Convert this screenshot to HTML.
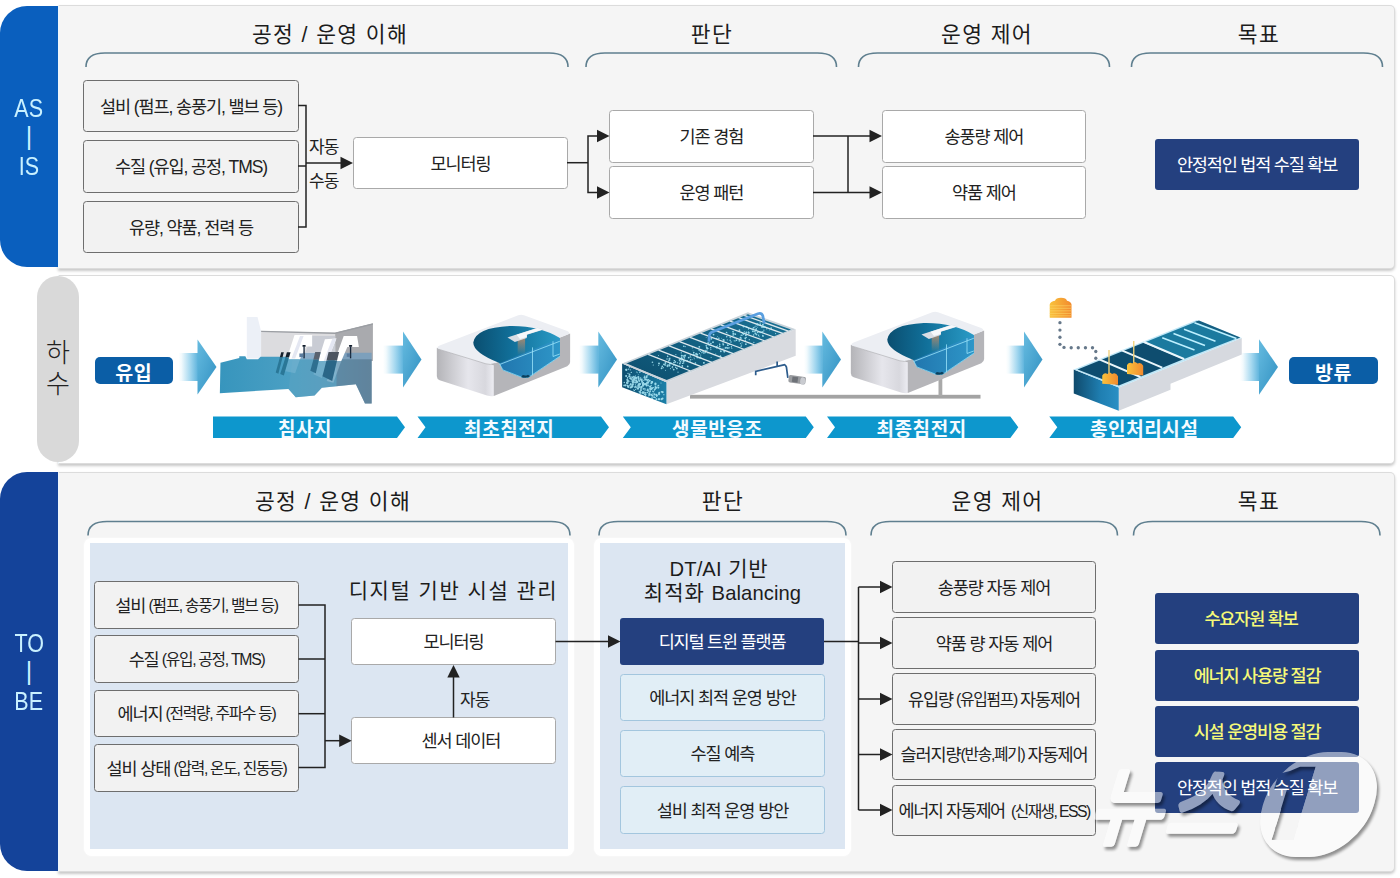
<!DOCTYPE html>
<html lang="ko"><head><meta charset="utf-8"><title>하수처리 AS-IS / TO-BE</title>
<style>
*{box-sizing:border-box;margin:0;padding:0}
html,body{width:1400px;height:878px;background:#fff;overflow:hidden}
body{font-family:"Liberation Sans","Noto Sans CJK KR",sans-serif;color:#222}
#root{position:relative;width:1400px;height:878px;overflow:hidden;background:#fff}
.abs{position:absolute}
.panel{position:absolute;background:#f5f5f5;border:1px solid #dcdcdc;border-left-color:#eef7fd;border-radius:0 5px 5px 0;box-shadow:0 2px 3px rgba(0,0,0,.22)}
.bar{position:absolute;left:0;width:58px;border-radius:27px 0 0 27px;color:#c9f1ff;display:flex;flex-direction:column;align-items:center;justify-content:center;font-size:25px;line-height:30px;font-weight:400}
.sq{display:inline-block;transform:scaleX(.86)}
.lt{font-size:20.2px;letter-spacing:.1px}
.hd{position:absolute;height:30px;line-height:30px;text-align:center;font-size:21.5px;letter-spacing:1.35px;color:#1c1c1c;font-weight:400;white-space:nowrap}
.bx{position:absolute;display:flex;align-items:center;justify-content:center;border-radius:3.5px;font-size:17.5px;letter-spacing:-1.1px;white-space:nowrap;color:#222;font-weight:400;padding-bottom:2px}
.g{background:#f2f2f2;border:1px solid #6e6e6e}
.w{background:#fff;border:1px solid #a9a9a9}
.lb{background:#e1eef6;border:1px solid #a3c6de}
.nv{background:#24407f;color:#fff;border-radius:3px;letter-spacing:-1.18px}
.nv.y{color:#f6f978;font-weight:500}
.sm{font-size:15.8px;letter-spacing:-1.3px}
.lbl{position:absolute;font-size:17px;letter-spacing:-.8px;white-space:nowrap;color:#222;line-height:20px}
svg{position:absolute;left:0;top:0}
</style></head>
<body><div id="root">
<div class="panel" style="left:58px;top:5px;width:1337px;height:264px"></div>
<div class="panel" style="left:58px;top:275px;width:1337px;height:189px;background:#fff"></div>
<div class="panel" style="left:58px;top:472px;width:1337px;height:400px"></div>
<div class="bar" style="top:6px;height:261px;background:#0a5fbe"><span class="sq">AS</span><span style="line-height:28px;font-size:25px;position:relative;top:-1px">|</span><span class="sq">IS</span></div>
<div class="bar" style="top:472px;height:399px;background:#14439a"><span class="sq">TO</span><span style="line-height:28px;font-size:25px;position:relative;top:-1px">|</span><span class="sq">BE</span></div>
<div class="abs" style="left:37px;top:276px;width:42px;height:186px;border-radius:21px;background:#d9d9d9;display:flex;flex-direction:column;align-items:center;justify-content:center;font-size:26px;line-height:31.5px;color:#222;font-weight:300"><span>하</span><span>수</span></div>
<div class="hd" style="left:180px;top:20px;width:300px;">공정 / 운영 이해</div>
<div class="hd" style="left:562px;top:20px;width:300px;">판단</div>
<div class="hd" style="left:837px;top:20px;width:300px;">운영 제어</div>
<div class="hd" style="left:1109px;top:20px;width:300px;">목표</div>
<div class="hd" style="left:183px;top:486.5px;width:300px;">공정 / 운영 이해</div>
<div class="hd" style="left:573px;top:486.5px;width:300px;">판단</div>
<div class="hd" style="left:847.5px;top:486.5px;width:300px;">운영 제어</div>
<div class="hd" style="left:1109px;top:486.5px;width:300px;">목표</div>
<div class="bx g" style="left:83px;top:80px;width:216px;height:52px">설비 (펌프, 송풍기, 밸브 등)</div>
<div class="bx g" style="left:83px;top:140px;width:216px;height:53px">수질 (유입, 공정, TMS)</div>
<div class="bx g" style="left:83px;top:201px;width:216px;height:52px">유량, 약품, 전력 등</div>
<div class="bx w" style="left:353px;top:137px;width:215px;height:52px">모니터링</div>
<div class="bx w" style="left:609px;top:110px;width:205px;height:53px">기존 경험</div>
<div class="bx w" style="left:609px;top:166px;width:205px;height:53px">운영 패턴</div>
<div class="bx w" style="left:882px;top:110px;width:204px;height:53px">송풍량 제어</div>
<div class="bx w" style="left:882px;top:166px;width:204px;height:53px">약품 제어</div>
<div class="bx nv" style="left:1155px;top:139px;width:204px;height:51px">안정적인 법적 수질 확보</div>
<div class="lbl" style="left:309px;top:137.5px">자동</div>
<div class="lbl" style="left:309px;top:172px">수동</div>
<div class="abs" style="left:84px;top:538px;width:490px;height:318px;background:#fff;border-radius:8px;box-shadow:0 0 2px 0 #fff"></div>
<div class="abs" style="left:89.5px;top:543px;width:478.5px;height:305.5px;background:#dce6f2"></div>
<div class="abs" style="left:594px;top:538px;width:257px;height:318px;background:#fff;border-radius:8px;box-shadow:0 0 2px 0 #fff"></div>
<div class="abs" style="left:600px;top:543px;width:245px;height:305.5px;background:#dce6f2"></div>
<div class="bx g" style="left:94px;top:581px;width:205px;height:48px">설비 <span class="sm">&nbsp;(펌프, 송풍기, 밸브 등)</span></div>
<div class="bx g" style="left:94px;top:635px;width:205px;height:48px">수질 <span class="sm">&nbsp;(유입, 공정, TMS)</span></div>
<div class="bx g" style="left:94px;top:690px;width:205px;height:47px">에너지 <span class="sm">&nbsp;(전력량, 주파수 등)</span></div>
<div class="bx g" style="left:94px;top:744px;width:205px;height:48px">설비 상태 <span class="sm">&nbsp;(압력, 온도, 진동등)</span></div>
<div class="hd" style="left:303.5px;top:576px;width:300px;font-size:21px;letter-spacing:1.5px">디지털 기반 시설 관리</div>
<div class="bx w" style="left:351px;top:618px;width:205px;height:47px">모니터링</div>
<div class="bx w" style="left:351px;top:717px;width:205px;height:47px"><span style="padding-left:15px">센서 데이터</span></div>
<div class="lbl" style="left:460px;top:691px">자동</div>
<div class="hd" style="left:569px;top:553.5px;width:300px;font-size:21px;letter-spacing:.8px"><span class="lt">DT/AI</span> 기반</div>
<div class="hd" style="left:572.5px;top:577.5px;width:300px;font-size:21px;letter-spacing:1px">최적화 <span class="lt">Balancing</span></div>
<div class="bx nv" style="left:620px;top:618px;width:204px;height:47px">디지털 트윈 플랫폼</div>
<div class="bx lb" style="left:620px;top:674px;width:205px;height:47px">에너지 최적 운영 방안</div>
<div class="bx lb" style="left:620px;top:730px;width:205px;height:47px">수질 예측</div>
<div class="bx lb" style="left:620px;top:786px;width:205px;height:48px">설비 최적 운영 방안</div>
<div class="bx g" style="left:892px;top:561px;width:204px;height:52px">송풍량 자동 제어</div>
<div class="bx g" style="left:892px;top:617px;width:204px;height:52px">약품 량 자동 제어</div>
<div class="bx g" style="left:892px;top:673px;width:204px;height:52px">유입량 <span class="sm">&nbsp;(유입펌프)&nbsp;</span> 자동제어</div>
<div class="bx g" style="left:892px;top:729px;width:204px;height:51px">슬러지량<span class="sm">(반송,폐기)&nbsp;</span> 자동제어</div>
<div class="bx g" style="left:892px;top:785px;width:204px;height:51px"><span style="letter-spacing:-1.4px">에너지 자동제어 <span class="sm" style="letter-spacing:-1.6px">&nbsp;(신재생, ESS)</span></span></div>
<div class="bx nv y" style="left:1155px;top:593px;width:204px;height:51px"><span style="padding-right:12px">수요자원 확보</span></div>
<div class="bx nv y" style="left:1155px;top:650px;width:204px;height:51px">에너지 사용량 절감</div>
<div class="bx nv y" style="left:1155px;top:706px;width:204px;height:51px">시설 운영비용 절감</div>
<div class="bx nv" style="left:1155px;top:762px;width:204px;height:51px">안정적인 법적 수질 확보</div>
<div class="abs" style="left:95px;top:357px;width:77.5px;height:27px;border-radius:5px;background:#0b5ea6;color:#fff;font-weight:700;font-size:19.5px;line-height:33px;text-align:center;letter-spacing:.6px;z-index:3">유입</div>
<div class="abs" style="left:1289px;top:357px;width:89px;height:27px;border-radius:5px;background:#0b5ea6;color:#fff;font-weight:700;font-size:19.5px;line-height:33px;text-align:center;letter-spacing:.6px;z-index:3">방류</div>
<div class="abs" style="left:213px;top:416.5px;width:184px;height:21.5px;overflow:hidden;color:#f4fbff;font-weight:700;font-size:19px;line-height:26px;text-align:center;letter-spacing:.6px;z-index:3">침사지</div>
<div class="abs" style="left:417.5px;top:416.5px;width:183.5px;height:21.5px;overflow:hidden;color:#f4fbff;font-weight:700;font-size:19px;line-height:26px;text-align:center;letter-spacing:.6px;z-index:3">최초침전지</div>
<div class="abs" style="left:622.8px;top:416.5px;width:189px;height:21.5px;overflow:hidden;color:#f4fbff;font-weight:700;font-size:19px;line-height:26px;text-align:center;letter-spacing:.6px;z-index:3">생물반응조</div>
<div class="abs" style="left:827px;top:416.5px;width:189.3px;height:21.5px;overflow:hidden;color:#f4fbff;font-weight:700;font-size:19px;line-height:26px;text-align:center;letter-spacing:.6px;z-index:3">최종침전지</div>
<div class="abs" style="left:1049.3px;top:416.5px;width:189.9px;height:21.5px;overflow:hidden;color:#f4fbff;font-weight:700;font-size:19px;line-height:26px;text-align:center;letter-spacing:.6px;z-index:3">총인처리시설</div>
<svg width="1400" height="878" viewBox="0 0 1400 878"><path d="M86 67 Q86 53 105 53 L549 53 Q568 53 568 67" fill="none" stroke="#5f7f8f" stroke-width="1.6"/>
<path d="M586 67 Q586 53 605 53 L817.5 53 Q836.5 53 836.5 67" fill="none" stroke="#5f7f8f" stroke-width="1.6"/>
<path d="M858.5 67 Q858.5 53 877.5 53 L1090.5 53 Q1109.5 53 1109.5 67" fill="none" stroke="#5f7f8f" stroke-width="1.6"/>
<path d="M1131.5 67 Q1131.5 53 1150.5 53 L1363.5 53 Q1382.5 53 1382.5 67" fill="none" stroke="#5f7f8f" stroke-width="1.6"/>
<path d="M88 535.5 Q88 521.5 107 521.5 L551 521.5 Q570 521.5 570 535.5" fill="none" stroke="#5f7f8f" stroke-width="1.6"/>
<path d="M599 535.5 Q599 521.5 618 521.5 L827 521.5 Q846 521.5 846 535.5" fill="none" stroke="#5f7f8f" stroke-width="1.6"/>
<path d="M871 535.5 Q871 521.5 890 521.5 L1098.5 521.5 Q1117.5 521.5 1117.5 535.5" fill="none" stroke="#5f7f8f" stroke-width="1.6"/>
<path d="M1133.5 535.5 Q1133.5 521.5 1152.5 521.5 L1361 521.5 Q1380 521.5 1380 535.5" fill="none" stroke="#5f7f8f" stroke-width="1.6"/>
<polyline points="298,105.5 306,105.5 306,227 298,227" fill="none" stroke="#222" stroke-width="1.5"/>
<polyline points="298,166 306,166" fill="none" stroke="#222" stroke-width="1.5"/>
<polyline points="306,163 343,163" fill="none" stroke="#222" stroke-width="1.5"/>
<polygon points="353,163 340.5,156.8 340.5,169.2" fill="#222"/>
<polyline points="567,162.7 588,162.7" fill="none" stroke="#222" stroke-width="1.5"/>
<polyline points="598,136 588,136 588,192.5 598,192.5" fill="none" stroke="#222" stroke-width="1.5"/>
<polygon points="609.5,136 597,129.8 597,142.2" fill="#222"/>
<polygon points="609.5,192.5 597,186.3 597,198.7" fill="#222"/>
<polyline points="813,136 871,136" fill="none" stroke="#222" stroke-width="1.5"/>
<polygon points="882,136 869.5,129.8 869.5,142.2" fill="#222"/>
<polyline points="813,192.5 871,192.5" fill="none" stroke="#222" stroke-width="1.5"/>
<polygon points="882,192.5 869.5,186.3 869.5,198.7" fill="#222"/>
<polyline points="848,136 848,192.5" fill="none" stroke="#222" stroke-width="1.5"/>
<polyline points="298.5,605 325,605 325,767.5 298.5,767.5" fill="none" stroke="#222" stroke-width="1.5"/>
<polyline points="298.5,659 325,659" fill="none" stroke="#222" stroke-width="1.5"/>
<polyline points="298.5,713.7 325,713.7" fill="none" stroke="#222" stroke-width="1.5"/>
<polyline points="325,740.7 341,740.7" fill="none" stroke="#222" stroke-width="1.5"/>
<polygon points="351.7,740.7 339.2,734.5 339.2,746.9" fill="#222"/>
<polyline points="453.5,717.5 453.5,676" fill="none" stroke="#222" stroke-width="1.5"/>
<polygon points="453.5,665 447.3,677.5 459.7,677.5" fill="#222"/>
<polyline points="555.5,641.5 610,641.5" fill="none" stroke="#222" stroke-width="1.5"/>
<polygon points="620.5,641.5 608,635.3 608,647.7" fill="#222"/>
<polyline points="824,641.5 858.5,641.5" fill="none" stroke="#222" stroke-width="1.5"/>
<polyline points="858.5,587 858.5,810" fill="none" stroke="#222" stroke-width="1.5"/>
<polyline points="858.5,587 882,587" fill="none" stroke="#222" stroke-width="1.5"/>
<polygon points="892.5,587 880,580.8 880,593.2" fill="#222"/>
<polyline points="858.5,643 882,643" fill="none" stroke="#222" stroke-width="1.5"/>
<polygon points="892.5,643 880,636.8 880,649.2" fill="#222"/>
<polyline points="858.5,699 882,699" fill="none" stroke="#222" stroke-width="1.5"/>
<polygon points="892.5,699 880,692.8 880,705.2" fill="#222"/>
<polyline points="858.5,754.5 882,754.5" fill="none" stroke="#222" stroke-width="1.5"/>
<polygon points="892.5,754.5 880,748.3 880,760.7" fill="#222"/>
<polyline points="858.5,810 882,810" fill="none" stroke="#222" stroke-width="1.5"/>
<polygon points="892.5,810 880,803.8 880,816.2" fill="#222"/>
<defs>
<linearGradient id="ga" x1="0" y1="0" x2="1" y2="0"><stop offset="0" stop-color="#ffffff"/><stop offset=".15" stop-color="#f2fafd"/><stop offset=".6" stop-color="#a3d7ef"/><stop offset="1" stop-color="#5db3dc"/></linearGradient>
<linearGradient id="gh" x1="0" y1="0" x2="1" y2="1"><stop offset="0" stop-color="#66bbe0"/><stop offset="1" stop-color="#3090c1"/></linearGradient>
<linearGradient id="gside" x1="0" y1="0" x2="1" y2="0"><stop offset="0" stop-color="#b4b4b8"/><stop offset=".55" stop-color="#e6e6ec"/><stop offset=".85" stop-color="#d8d8de"/><stop offset="1" stop-color="#ececf2"/></linearGradient>
<linearGradient id="gpool" x1="0" y1="0" x2="1" y2="0"><stop offset="0" stop-color="#0a4e70"/><stop offset=".45" stop-color="#11709a"/><stop offset="1" stop-color="#2a9bc6"/></linearGradient>
<linearGradient id="gsec" x1="0" y1="0" x2="1" y2="0"><stop offset="0" stop-color="#2176ae"/><stop offset="1" stop-color="#2e96c8"/></linearGradient>
<linearGradient id="gbr" x1="0" y1="0" x2="0" y2="1"><stop offset="0" stop-color="#b58a6a" stop-opacity=".9"/><stop offset="1" stop-color="#b58a6a" stop-opacity="0"/></linearGradient>
<linearGradient id="gend" x1="0" y1="0" x2="1" y2="0"><stop offset="0" stop-color="#0d4d6e"/><stop offset="1" stop-color="#1c80a8"/></linearGradient>
<linearGradient id="gend2" x1="0" y1="0" x2="1" y2="0"><stop offset="0" stop-color="#0f4a6c"/><stop offset=".6" stop-color="#1f7fb2"/><stop offset="1" stop-color="#2a8fc4"/></linearGradient>
<linearGradient id="gtop" x1="0" y1="1" x2="1" y2="0"><stop offset="0" stop-color="#0c4e6e"/><stop offset="1" stop-color="#1a7396"/></linearGradient>
<linearGradient id="gw1" x1="0" y1="0" x2="1" y2="0"><stop offset="0" stop-color="#3795bd"/><stop offset=".45" stop-color="#4a9fc3"/><stop offset=".7" stop-color="#5a9bbb"/><stop offset="1" stop-color="#6488a2"/></linearGradient>
<linearGradient id="gor" x1="0" y1="0" x2="1" y2="0"><stop offset="0" stop-color="#f9c23c"/><stop offset="1" stop-color="#f28a2e"/></linearGradient>
</defs>
<rect x="178.5" y="353" width="19.5" height="28" fill="url(#ga)"/>
<polygon points="197.5,339.5 216.5,367 197.5,394.5" fill="url(#gh)"/>
<rect x="383" y="345.6" width="20.5" height="28" fill="url(#ga)"/>
<polygon points="403,331.6 421.5,359.6 403,387.6" fill="url(#gh)"/>
<rect x="579" y="345.6" width="19.8" height="28" fill="url(#ga)"/>
<polygon points="598.3,331.6 617,359.6 598.3,387.6" fill="url(#gh)"/>
<rect x="804" y="345.6" width="18.8" height="28" fill="url(#ga)"/>
<polygon points="822.3,331.6 841,359.6 822.3,387.6" fill="url(#gh)"/>
<rect x="1006" y="345.6" width="18.5" height="28" fill="url(#ga)"/>
<polygon points="1024,331.6 1042.5,359.6 1024,387.6" fill="url(#gh)"/>
<rect x="1240" y="353" width="19.5" height="28" fill="url(#ga)"/>
<polygon points="1259,339.2 1278,367 1259,394.8" fill="url(#gh)"/>
<polygon points="213,416.5 397,416.5 405,427.25 397,438 213,438" fill="#0d97cd"/>
<polygon points="417.5,416.5 601,416.5 609,427.25 601,438 417.5,438 425.5,427.25" fill="#0d97cd"/>
<polygon points="622.8,416.5 805.8,416.5 813.8,427.25 805.8,438 622.8,438 630.8,427.25" fill="#0d97cd"/>
<polygon points="827,416.5 1010.3,416.5 1018.3,427.25 1010.3,438 827,438 835,427.25" fill="#0d97cd"/>
<polygon points="1049.3,416.5 1233.2,416.5 1241.2,427.25 1233.2,438 1049.3,438 1057.3,427.25" fill="#0d97cd"/>
<rect x="690" y="394.8" width="290.5" height="3.8" fill="#a3a3a3"/>
<rect x="938.5" y="374" width="3.8" height="22" fill="#a9a9a9"/>
<g transform="translate(215 310) scale(.12143)">
<polygon points="378,172 990,187 1300,112 1300,410 378,410" fill="#dcdcdf"/>
<polygon points="990,187 1300,112 1300,420 990,420" fill="#a9aaae"/>
<polygon points="378,170 990,185 1300,110 1300,122 990,197 378,182" fill="#9b9ea3"/>
<polygon points="800,215 990,215 990,345 745,345" fill="#c9ccd4"/>
<polygon points="262,58 350,58 380,178 380,400 262,400" fill="#ecf0f7"/>
<polygon points="45,435 200,395 200,380 250,380 262,405 355,405 375,385 640,385 700,405 1290,405 1290,770 1235,770 1160,612 880,640 820,705 665,718 605,650 40,685" fill="url(#gw1)"/>
<polygon points="690,352 1290,352 1290,408 700,408" fill="#6f9cc0" opacity=".75"/>
<polygon points="1000,405 1290,405 1290,770 1235,770 1160,612 1000,628" fill="#5f7f98" opacity=".55"/>
<polygon points="605,650 640,400 1000,405 1000,628 880,640 820,705 665,718" fill="#5ea5c4" opacity=".45"/>
<polygon points="655,205 800,205 800,300 748,300 700,405 590,405" fill="#ffffff"/>
<polygon points="700,215 730,215 660,400 630,400" fill="#e4e7f2"/>
<polygon points="905,240 1000,235 925,420 850,420" fill="#ffffff"/>
<polygon points="965,238 1000,235 925,420 895,420" fill="#e4e7f2"/>
<polygon points="1060,215 1170,215 1185,305 1090,305 1040,420 985,420" fill="#ffffff"/>
<polygon points="590,405 700,405 660,520 560,500" fill="#7db9d6" opacity=".5"/>
<polygon points="850,420 925,420 880,560 810,530" fill="#86bcd6" opacity=".5"/>
<polygon points="985,420 1040,420 975,600 920,585" fill="#9cc3d8" opacity=".55"/>
<polygon points="545,348 567,348 556,392 534,392" fill="#15202c"/><polygon points="534,392 556,392 522,525 500,515" fill="#2a7797"/>
<polygon points="592,348 622,348 610,392 580,392" fill="#15202c"/><polygon points="580,392 610,392 567,540 537,528" fill="#2a7797"/>
<polygon points="825,345 870,345 856,410 810,410" fill="#59626f"/><polygon points="810,410 856,410 830,520 785,500" fill="#2e6f90"/>
<polygon points="935,345 1022,345 1005,415 918,415" fill="#4d5560"/><polygon points="918,415 1005,415 965,585 885,545" fill="#2a6687"/>
<rect x="720" y="288" width="27" height="14" rx="4" fill="#111c2b"/><rect x="728" y="300" width="11" height="98" fill="#16263a"/><rect x="695" y="358" width="32" height="30" fill="#5b7c9e"/>
<rect x="1103" y="288" width="27" height="14" rx="4" fill="#111c2b"/><rect x="1111" y="300" width="11" height="98" fill="#16263a"/><rect x="1085" y="358" width="28" height="28" fill="#5b7c9e"/>
</g>
<g id="clar" transform="translate(430 305) scale(.11390)">
<path d="M530,525 L1230,250 L1230,500 Q1230,525 1205,537 L560,800 L530,800 Z" fill="#b5b5b9"/>
<path d="M60,375 L530,520 L560,530 L560,800 Q530,805 500,795 L85,660 Q60,650 60,625 Z" fill="url(#gside)"/>
<path d="M85,355 L775,90 Q800,82 825,90 L1205,228 Q1240,245 1205,262 L570,512 Q530,530 490,516 L85,392 Q45,375 85,355 Z" fill="#eceef3"/>
<path d="M75,388 L490,516 Q530,530 570,512" fill="none" stroke="#a6a6aa" stroke-width="5"/>
<path d="M610,510 Q380,420 380,330 Q400,200 700,185 Q960,180 1140,290 L1140,450 L860,640 L820,640 L640,570 Z" fill="url(#gpool)"/>
<path d="M610,512 L1140,292 L1140,450 L880,625 Q840,650 800,632 L640,570 Z" fill="url(#gsec)"/>
<path d="M610,514 L640,570 L800,632 Q840,650 880,625 L1140,450" fill="none" stroke="#8edcf6" stroke-width="7" stroke-linejoin="round"/>
<path d="M800,632 Q840,650 880,625 L860,612 Q840,625 815,615Z" fill="#0b3f5c"/>
<path d="M612,522 L1140,318 M900,372 L900,618 M1080,318 L1080,452 L1140,430" fill="none" stroke="#9be3fa" stroke-width="7"/>
<polygon points="770,300 835,285 835,430 770,440" fill="url(#gbr)"/>
<polygon points="680,285 945,200 1000,215 850,262 850,290 745,325" fill="#d9dde4"/>
<polygon points="760,262 945,202 990,215 850,260 850,280 790,298" fill="#f6f8fb"/>
</g>
<use href="#clar" x="0" y="0" transform="translate(414 -3)"/>
<g transform="translate(615 300) scale(.142857)">
<polygon points="360,575 1265,205 1265,390 360,730" fill="#d9dbe0"/>
<polygon points="50,445 360,575 360,730 50,610" fill="url(#gend)"/>
<polygon points="50,445 930,85 1265,205 360,575" fill="#c9d3da"/>
<polygon points="75,447 930,100 1232,207 362,560" fill="url(#gtop)"/>
<line x1="231.78" y1="380.5" x2="528.82" y2="496.98" stroke="#dfe9ee" stroke-width="9"/>
<line x1="305.05" y1="350.75" x2="603.45" y2="466.55" stroke="#dfe9ee" stroke-width="9"/>
<line x1="378.32" y1="321" x2="678.08" y2="436.12" stroke="#dfe9ee" stroke-width="9"/>
<line x1="451.59" y1="291.25" x2="752.71" y2="405.69" stroke="#dfe9ee" stroke-width="9"/>
<line x1="524.86" y1="261.5" x2="827.34" y2="375.26" stroke="#dfe9ee" stroke-width="9"/>
<line x1="598.13" y1="231.75" x2="901.97" y2="344.83" stroke="#dfe9ee" stroke-width="9"/>
<line x1="671.4" y1="202" x2="976.6" y2="314.4" stroke="#dfe9ee" stroke-width="9"/>
<line x1="740.36" y1="174" x2="1046.84" y2="285.76" stroke="#dfe9ee" stroke-width="9"/>
<line x1="805.01" y1="147.75" x2="1112.69" y2="258.91" stroke="#dfe9ee" stroke-width="9"/>
<line x1="865.35" y1="123.25" x2="1174.15" y2="233.85" stroke="#dfe9ee" stroke-width="9"/>
<line x1="904.14" y1="107.5" x2="1213.66" y2="217.74" stroke="#dfe9ee" stroke-width="9"/>
<g fill="#aeeaf8" opacity=".85"><circle cx="597" cy="394" r="3.3"/><circle cx="771" cy="336" r="4.5"/><circle cx="347" cy="454" r="4.7"/><circle cx="368" cy="455" r="3.4"/><circle cx="643" cy="353" r="3.9"/><circle cx="759" cy="279" r="6.8"/><circle cx="638" cy="263" r="3.2"/><circle cx="1033" cy="247" r="4.2"/><circle cx="454" cy="445" r="6.3"/><circle cx="478" cy="433" r="5.3"/><circle cx="747" cy="268" r="3.3"/><circle cx="404" cy="475" r="3.8"/><circle cx="782" cy="257" r="5.3"/><circle cx="671" cy="347" r="4.2"/><circle cx="893" cy="233" r="5.3"/><circle cx="671" cy="305" r="6.5"/><circle cx="824" cy="245" r="3.5"/><circle cx="738" cy="393" r="6.0"/><circle cx="416" cy="425" r="5.7"/><circle cx="884" cy="246" r="5.3"/><circle cx="935" cy="202" r="5.4"/><circle cx="815" cy="327" r="4.8"/><circle cx="991" cy="242" r="5.7"/><circle cx="343" cy="451" r="5.8"/><circle cx="886" cy="315" r="4.1"/><circle cx="598" cy="359" r="5.7"/><circle cx="306" cy="459" r="3.5"/><circle cx="367" cy="461" r="6.1"/><circle cx="413" cy="438" r="6.5"/><circle cx="424" cy="471" r="4.8"/><circle cx="790" cy="336" r="6.5"/><circle cx="464" cy="370" r="4.7"/><circle cx="673" cy="403" r="3.6"/><circle cx="367" cy="392" r="3.9"/><circle cx="426" cy="382" r="4.1"/><circle cx="326" cy="478" r="4.7"/><circle cx="481" cy="324" r="5.8"/><circle cx="650" cy="303" r="5.5"/><circle cx="916" cy="309" r="6.1"/><circle cx="999" cy="226" r="6.2"/><circle cx="589" cy="351" r="5.5"/><circle cx="376" cy="463" r="3.3"/><circle cx="494" cy="422" r="3.2"/><circle cx="354" cy="491" r="3.6"/><circle cx="385" cy="443" r="6.5"/><circle cx="780" cy="295" r="3.6"/><circle cx="477" cy="390" r="3.5"/><circle cx="983" cy="235" r="7.0"/><circle cx="641" cy="328" r="3.4"/><circle cx="572" cy="374" r="4.1"/><circle cx="936" cy="229" r="6.8"/><circle cx="717" cy="321" r="3.6"/><circle cx="777" cy="335" r="6.9"/><circle cx="966" cy="220" r="5.8"/><circle cx="491" cy="390" r="6.1"/><circle cx="733" cy="324" r="6.1"/><circle cx="576" cy="383" r="6.9"/><circle cx="1036" cy="252" r="6.2"/><circle cx="920" cy="229" r="5.1"/><circle cx="546" cy="356" r="3.1"/><circle cx="331" cy="465" r="5.8"/><circle cx="1062" cy="202" r="4.8"/><circle cx="1124" cy="235" r="4.5"/><circle cx="471" cy="407" r="3.9"/><circle cx="481" cy="425" r="6.6"/><circle cx="1005" cy="247" r="4.9"/><circle cx="806" cy="282" r="5.6"/><circle cx="970" cy="195" r="6.1"/><circle cx="842" cy="239" r="6.2"/><circle cx="567" cy="378" r="6.2"/><circle cx="996" cy="170" r="6.8"/><circle cx="883" cy="269" r="3.7"/><circle cx="471" cy="462" r="6.2"/><circle cx="509" cy="465" r="6.3"/><circle cx="1017" cy="172" r="5.2"/><circle cx="377" cy="423" r="3.1"/><circle cx="1000" cy="171" r="6.7"/><circle cx="590" cy="328" r="6.5"/><circle cx="937" cy="231" r="4.2"/><circle cx="530" cy="418" r="5.3"/><circle cx="487" cy="390" r="6.6"/><circle cx="591" cy="375" r="4.8"/><circle cx="790" cy="316" r="6.7"/><circle cx="659" cy="315" r="5.1"/><circle cx="756" cy="338" r="3.7"/><circle cx="326" cy="478" r="6.2"/><circle cx="369" cy="395" r="5.2"/><circle cx="571" cy="383" r="5.1"/><circle cx="733" cy="311" r="5.2"/><circle cx="479" cy="393" r="4.1"/><circle cx="826" cy="221" r="6.0"/><circle cx="989" cy="200" r="4.8"/><circle cx="712" cy="270" r="5.8"/><circle cx="650" cy="339" r="5.1"/><circle cx="741" cy="359" r="6.5"/><circle cx="987" cy="183" r="4.0"/><circle cx="818" cy="340" r="3.5"/><circle cx="375" cy="427" r="4.8"/><circle cx="372" cy="455" r="5.7"/><circle cx="916" cy="247" r="6.6"/><circle cx="416" cy="424" r="3.6"/><circle cx="900" cy="185" r="6.9"/><circle cx="525" cy="428" r="4.9"/><circle cx="1035" cy="173" r="6.3"/><circle cx="384" cy="407" r="4.4"/><circle cx="486" cy="427" r="4.3"/><circle cx="913" cy="282" r="4.8"/><circle cx="338" cy="474" r="4.3"/><circle cx="761" cy="282" r="6.9"/><circle cx="899" cy="238" r="6.9"/><circle cx="393" cy="444" r="6.1"/><circle cx="531" cy="400" r="3.5"/><circle cx="705" cy="378" r="4.0"/><circle cx="381" cy="413" r="6.7"/><circle cx="733" cy="302" r="3.2"/><circle cx="806" cy="262" r="4.7"/><circle cx="433" cy="479" r="6.2"/><circle cx="353" cy="441" r="6.4"/><circle cx="400" cy="470" r="4.4"/><circle cx="686" cy="295" r="6.7"/><circle cx="555" cy="411" r="4.0"/><circle cx="440" cy="460" r="3.6"/><circle cx="366" cy="466" r="4.2"/><circle cx="919" cy="262" r="4.2"/><circle cx="706" cy="333" r="3.1"/><circle cx="542" cy="416" r="3.1"/><circle cx="829" cy="245" r="4.9"/><circle cx="999" cy="191" r="3.4"/><circle cx="871" cy="211" r="6.3"/><circle cx="631" cy="367" r="5.0"/><circle cx="870" cy="286" r="6.3"/><circle cx="835" cy="262" r="5.5"/><circle cx="607" cy="351" r="3.5"/><circle cx="382" cy="460" r="6.0"/><circle cx="516" cy="403" r="6.4"/><circle cx="979" cy="221" r="5.7"/><circle cx="527" cy="392" r="4.8"/><circle cx="473" cy="444" r="4.8"/><circle cx="622" cy="440" r="5.2"/><circle cx="467" cy="391" r="6.9"/><circle cx="545" cy="383" r="4.5"/><circle cx="670" cy="334" r="5.0"/><circle cx="461" cy="414" r="4.1"/><circle cx="383" cy="449" r="4.6"/><circle cx="388" cy="480" r="3.9"/><circle cx="756" cy="302" r="5.1"/><circle cx="830" cy="235" r="6.5"/><circle cx="541" cy="335" r="4.3"/><circle cx="1093" cy="197" r="5.6"/><circle cx="411" cy="487" r="6.3"/><circle cx="921" cy="188" r="6.2"/><circle cx="364" cy="413" r="5.1"/><circle cx="735" cy="341" r="6.3"/><circle cx="674" cy="272" r="6.6"/><circle cx="810" cy="266" r="3.1"/><circle cx="383" cy="424" r="4.4"/><circle cx="426" cy="457" r="5.5"/><circle cx="727" cy="268" r="5.7"/><circle cx="765" cy="362" r="6.0"/><circle cx="691" cy="326" r="5.1"/><circle cx="878" cy="305" r="4.0"/><circle cx="403" cy="466" r="4.1"/><circle cx="879" cy="265" r="6.9"/><circle cx="759" cy="356" r="4.5"/><circle cx="638" cy="320" r="5.5"/><circle cx="717" cy="255" r="3.3"/><circle cx="424" cy="431" r="4.2"/><circle cx="817" cy="335" r="3.0"/><circle cx="353" cy="455" r="5.8"/><circle cx="889" cy="300" r="4.2"/><circle cx="646" cy="301" r="3.5"/><circle cx="990" cy="212" r="3.8"/><circle cx="1049" cy="185" r="4.8"/><circle cx="920" cy="228" r="6.9"/><circle cx="646" cy="340" r="6.8"/><circle cx="505" cy="426" r="5.3"/><circle cx="305" cy="388" r="3.5"/><circle cx="906" cy="223" r="5.0"/><circle cx="963" cy="206" r="6.6"/><circle cx="643" cy="317" r="3.1"/><circle cx="268" cy="455" r="4.2"/><circle cx="424" cy="435" r="4.4"/><circle cx="552" cy="382" r="6.0"/><circle cx="935" cy="223" r="3.5"/><circle cx="978" cy="189" r="4.2"/><circle cx="491" cy="326" r="4.6"/><circle cx="1016" cy="161" r="4.7"/><circle cx="496" cy="384" r="3.2"/><circle cx="412" cy="454" r="6.7"/><circle cx="468" cy="388" r="4.1"/><circle cx="712" cy="329" r="6.8"/><circle cx="1016" cy="226" r="6.2"/><circle cx="883" cy="323" r="5.2"/><circle cx="789" cy="238" r="3.2"/><circle cx="781" cy="227" r="5.6"/><circle cx="553" cy="400" r="3.2"/><circle cx="1042" cy="211" r="4.4"/><circle cx="576" cy="402" r="6.0"/><circle cx="1035" cy="181" r="4.2"/><circle cx="800" cy="335" r="4.6"/><circle cx="458" cy="433" r="6.6"/><circle cx="713" cy="337" r="3.9"/><circle cx="1041" cy="223" r="3.6"/><circle cx="458" cy="418" r="3.4"/><circle cx="600" cy="385" r="4.0"/><circle cx="758" cy="312" r="6.5"/><circle cx="828" cy="235" r="5.1"/><circle cx="622" cy="373" r="4.4"/><circle cx="341" cy="449" r="3.5"/><circle cx="801" cy="367" r="5.5"/><circle cx="964" cy="220" r="4.0"/><circle cx="650" cy="370" r="4.8"/><circle cx="1081" cy="210" r="3.1"/><circle cx="262" cy="436" r="5.8"/><circle cx="915" cy="183" r="3.0"/><circle cx="617" cy="363" r="6.7"/><circle cx="1009" cy="257" r="4.0"/><circle cx="297" cy="404" r="3.6"/><circle cx="656" cy="301" r="5.9"/><circle cx="690" cy="242" r="6.1"/><circle cx="642" cy="334" r="6.1"/><circle cx="485" cy="405" r="6.7"/><circle cx="786" cy="279" r="4.0"/><circle cx="812" cy="294" r="5.8"/><circle cx="452" cy="463" r="5.3"/><circle cx="629" cy="369" r="3.9"/><circle cx="803" cy="311" r="4.8"/><circle cx="1029" cy="189" r="5.6"/><circle cx="935" cy="197" r="4.0"/><circle cx="1033" cy="189" r="5.8"/><circle cx="600" cy="405" r="5.7"/><circle cx="635" cy="353" r="4.0"/><circle cx="842" cy="287" r="3.1"/><circle cx="551" cy="369" r="4.7"/><circle cx="850" cy="281" r="6.0"/><circle cx="772" cy="355" r="3.8"/><circle cx="1000" cy="172" r="3.9"/><circle cx="563" cy="441" r="6.0"/><circle cx="589" cy="408" r="3.7"/><circle cx="465" cy="403" r="4.7"/><circle cx="835" cy="286" r="4.6"/><circle cx="466" cy="409" r="6.9"/><circle cx="438" cy="440" r="4.6"/><circle cx="987" cy="208" r="6.5"/><circle cx="972" cy="297" r="4.3"/><circle cx="452" cy="420" r="6.7"/><circle cx="940" cy="278" r="4.5"/><circle cx="608" cy="369" r="4.3"/><circle cx="481" cy="441" r="4.4"/><circle cx="1025" cy="189" r="3.5"/><circle cx="1043" cy="190" r="6.3"/><circle cx="970" cy="245" r="4.7"/><circle cx="308" cy="444" r="6.7"/><circle cx="467" cy="421" r="4.5"/><circle cx="1030" cy="224" r="6.2"/><circle cx="894" cy="249" r="3.2"/><circle cx="441" cy="505" r="4.0"/><circle cx="912" cy="267" r="6.6"/><circle cx="551" cy="368" r="5.5"/><circle cx="622" cy="440" r="5.9"/><circle cx="325" cy="642" r="5.1"/><circle cx="240" cy="605" r="4.6"/><circle cx="200" cy="650" r="4.6"/><circle cx="190" cy="569" r="7.2"/><circle cx="205" cy="644" r="3.8"/><circle cx="193" cy="648" r="7.1"/><circle cx="333" cy="645" r="7.7"/><circle cx="90" cy="580" r="6.0"/><circle cx="333" cy="689" r="7.0"/><circle cx="274" cy="680" r="6.5"/><circle cx="196" cy="600" r="7.3"/><circle cx="88" cy="545" r="5.5"/><circle cx="107" cy="489" r="4.0"/><circle cx="200" cy="578" r="3.8"/><circle cx="213" cy="650" r="6.6"/><circle cx="305" cy="598" r="4.5"/><circle cx="177" cy="648" r="5.4"/><circle cx="98" cy="534" r="5.2"/><circle cx="162" cy="604" r="5.5"/><circle cx="231" cy="598" r="3.8"/><circle cx="235" cy="670" r="3.8"/><circle cx="211" cy="622" r="4.3"/><circle cx="163" cy="588" r="4.6"/><circle cx="117" cy="558" r="4.8"/><circle cx="117" cy="612" r="4.2"/><circle cx="98" cy="568" r="4.8"/><circle cx="255" cy="572" r="3.3"/><circle cx="262" cy="620" r="3.9"/><circle cx="259" cy="687" r="6.7"/><circle cx="182" cy="631" r="6.7"/><circle cx="186" cy="562" r="4.3"/><circle cx="260" cy="574" r="7.7"/><circle cx="276" cy="625" r="5.3"/><circle cx="225" cy="580" r="7.6"/><circle cx="114" cy="559" r="3.3"/><circle cx="143" cy="627" r="3.2"/><circle cx="245" cy="649" r="3.1"/><circle cx="108" cy="547" r="6.1"/><circle cx="78" cy="532" r="7.3"/><circle cx="128" cy="572" r="7.2"/><circle cx="167" cy="638" r="3.4"/><circle cx="194" cy="599" r="3.4"/><circle cx="138" cy="547" r="6.8"/><circle cx="240" cy="653" r="5.9"/><circle cx="145" cy="625" r="4.2"/><circle cx="212" cy="589" r="7.0"/><circle cx="282" cy="604" r="5.0"/><circle cx="247" cy="606" r="6.7"/><circle cx="209" cy="590" r="7.3"/><circle cx="227" cy="631" r="6.6"/><circle cx="220" cy="599" r="3.9"/><circle cx="232" cy="581" r="5.6"/><circle cx="95" cy="568" r="4.1"/><circle cx="310" cy="649" r="6.5"/><circle cx="201" cy="588" r="3.6"/><circle cx="222" cy="599" r="7.1"/><circle cx="168" cy="586" r="3.0"/><circle cx="270" cy="613" r="4.8"/><circle cx="64" cy="598" r="6.3"/><circle cx="198" cy="650" r="7.0"/><circle cx="104" cy="538" r="4.0"/><circle cx="180" cy="620" r="3.3"/><circle cx="176" cy="652" r="5.3"/><circle cx="207" cy="543" r="7.7"/><circle cx="147" cy="611" r="4.8"/><circle cx="187" cy="622" r="5.0"/><circle cx="181" cy="622" r="4.5"/><circle cx="161" cy="621" r="6.0"/><circle cx="195" cy="595" r="6.3"/><circle cx="259" cy="574" r="6.9"/><circle cx="228" cy="580" r="3.3"/><circle cx="271" cy="643" r="4.9"/><circle cx="214" cy="669" r="3.6"/><circle cx="80" cy="489" r="7.3"/><circle cx="214" cy="662" r="7.1"/><circle cx="78" cy="488" r="6.4"/><circle cx="124" cy="592" r="7.7"/><circle cx="276" cy="661" r="7.4"/><circle cx="143" cy="529" r="3.2"/><circle cx="290" cy="694" r="7.0"/><circle cx="110" cy="589" r="7.0"/><circle cx="124" cy="542" r="5.9"/><circle cx="170" cy="589" r="3.7"/><circle cx="88" cy="598" r="4.7"/><circle cx="303" cy="613" r="7.7"/><circle cx="326" cy="694" r="7.4"/><circle cx="158" cy="573" r="6.2"/><circle cx="227" cy="563" r="7.5"/><circle cx="222" cy="534" r="6.4"/><circle cx="169" cy="593" r="3.7"/><circle cx="322" cy="581" r="3.7"/><circle cx="152" cy="570" r="3.7"/><circle cx="289" cy="663" r="7.2"/><circle cx="150" cy="580" r="4.0"/><circle cx="243" cy="664" r="7.6"/><circle cx="191" cy="651" r="5.5"/><circle cx="123" cy="571" r="6.6"/><circle cx="95" cy="484" r="4.3"/><circle cx="135" cy="634" r="5.2"/><circle cx="150" cy="543" r="5.5"/><circle cx="178" cy="593" r="3.2"/><circle cx="89" cy="600" r="6.6"/><circle cx="218" cy="590" r="3.7"/><circle cx="259" cy="617" r="7.7"/><circle cx="283" cy="590" r="7.1"/><circle cx="197" cy="645" r="5.5"/><circle cx="230" cy="625" r="6.1"/><circle cx="141" cy="540" r="6.0"/><circle cx="132" cy="557" r="4.4"/><circle cx="125" cy="562" r="6.6"/><circle cx="156" cy="601" r="4.9"/><circle cx="198" cy="650" r="5.2"/><circle cx="90" cy="560" r="4.8"/><circle cx="150" cy="551" r="5.4"/><circle cx="198" cy="592" r="6.9"/><circle cx="164" cy="561" r="4.6"/><circle cx="246" cy="639" r="5.9"/><circle cx="110" cy="612" r="7.6"/><circle cx="188" cy="575" r="4.8"/><circle cx="196" cy="582" r="7.4"/><circle cx="165" cy="552" r="7.5"/><circle cx="234" cy="596" r="3.9"/><circle cx="232" cy="635" r="4.5"/><circle cx="132" cy="537" r="6.2"/><circle cx="176" cy="611" r="5.6"/><circle cx="342" cy="663" r="4.3"/><circle cx="91" cy="606" r="5.9"/><circle cx="308" cy="694" r="7.8"/><circle cx="226" cy="647" r="5.4"/><circle cx="163" cy="619" r="4.9"/><circle cx="240" cy="644" r="4.2"/><circle cx="85" cy="583" r="7.2"/><circle cx="171" cy="561" r="5.3"/><circle cx="134" cy="606" r="4.1"/><circle cx="224" cy="594" r="4.9"/><circle cx="83" cy="558" r="3.3"/><circle cx="220" cy="540" r="3.7"/><circle cx="243" cy="656" r="4.8"/><circle cx="282" cy="683" r="4.5"/><circle cx="189" cy="557" r="4.3"/><circle cx="116" cy="613" r="3.6"/><circle cx="102" cy="521" r="6.5"/><circle cx="212" cy="556" r="7.6"/><circle cx="209" cy="593" r="4.2"/><circle cx="91" cy="514" r="4.2"/><circle cx="137" cy="555" r="7.1"/><circle cx="254" cy="598" r="3.6"/><circle cx="190" cy="553" r="3.6"/><circle cx="168" cy="598" r="5.2"/><circle cx="291" cy="675" r="3.7"/><circle cx="93" cy="608" r="7.2"/><circle cx="286" cy="615" r="7.2"/><circle cx="138" cy="613" r="3.8"/><circle cx="237" cy="659" r="4.0"/><circle cx="212" cy="585" r="4.7"/><circle cx="118" cy="539" r="4.7"/><circle cx="143" cy="594" r="4.5"/><circle cx="199" cy="623" r="5.2"/><circle cx="104" cy="547" r="3.6"/><circle cx="112" cy="549" r="5.8"/><circle cx="203" cy="620" r="5.2"/><circle cx="296" cy="601" r="3.7"/><circle cx="283" cy="585" r="7.4"/><circle cx="196" cy="589" r="7.1"/><circle cx="85" cy="556" r="3.6"/><circle cx="140" cy="577" r="6.4"/><circle cx="131" cy="559" r="7.0"/><circle cx="65" cy="577" r="5.0"/><circle cx="119" cy="608" r="5.3"/><circle cx="184" cy="564" r="4.4"/><circle cx="174" cy="586" r="7.4"/><circle cx="221" cy="542" r="6.4"/><circle cx="112" cy="570" r="3.3"/><circle cx="170" cy="570" r="4.5"/><circle cx="114" cy="507" r="4.8"/><circle cx="245" cy="629" r="4.1"/><circle cx="147" cy="563" r="6.0"/><circle cx="137" cy="562" r="4.1"/><circle cx="128" cy="626" r="3.2"/><circle cx="208" cy="660" r="5.8"/><circle cx="233" cy="575" r="5.8"/><circle cx="242" cy="565" r="4.5"/><circle cx="249" cy="627" r="6.9"/><circle cx="202" cy="563" r="3.9"/><circle cx="89" cy="565" r="7.0"/><circle cx="151" cy="572" r="4.3"/><circle cx="178" cy="630" r="4.1"/><circle cx="128" cy="571" r="7.5"/><circle cx="104" cy="597" r="4.8"/><circle cx="293" cy="669" r="7.6"/><circle cx="271" cy="640" r="3.1"/><circle cx="190" cy="584" r="3.6"/><circle cx="203" cy="650" r="4.3"/><circle cx="174" cy="505" r="5.7"/><circle cx="146" cy="580" r="4.9"/><circle cx="230" cy="526" r="4.2"/><circle cx="86" cy="554" r="4.6"/><circle cx="234" cy="638" r="5.0"/><circle cx="158" cy="621" r="4.3"/><circle cx="233" cy="574" r="5.6"/><circle cx="120" cy="605" r="7.1"/><circle cx="133" cy="558" r="3.4"/><circle cx="133" cy="549" r="5.6"/><circle cx="152" cy="504" r="3.9"/><circle cx="256" cy="664" r="7.0"/><circle cx="308" cy="660" r="6.2"/><circle cx="179" cy="546" r="5.6"/><circle cx="166" cy="594" r="7.5"/><circle cx="168" cy="611" r="6.4"/><circle cx="243" cy="565" r="6.4"/><circle cx="314" cy="661" r="3.0"/><circle cx="173" cy="603" r="4.5"/><circle cx="308" cy="654" r="5.9"/><circle cx="210" cy="630" r="5.0"/><circle cx="234" cy="559" r="5.3"/><circle cx="281" cy="625" r="5.8"/><circle cx="222" cy="557" r="5.1"/><circle cx="277" cy="631" r="3.8"/><circle cx="265" cy="652" r="3.5"/><circle cx="186" cy="609" r="8.0"/><circle cx="109" cy="551" r="3.4"/><circle cx="74" cy="597" r="7.8"/><circle cx="130" cy="588" r="3.9"/><circle cx="145" cy="606" r="5.6"/><circle cx="148" cy="547" r="3.8"/><circle cx="265" cy="639" r="5.7"/><circle cx="148" cy="613" r="4.0"/><circle cx="81" cy="577" r="4.5"/><circle cx="182" cy="556" r="7.1"/><circle cx="156" cy="510" r="3.4"/><circle cx="110" cy="588" r="4.7"/><circle cx="248" cy="619" r="6.9"/><circle cx="109" cy="550" r="6.0"/><circle cx="125" cy="548" r="3.6"/><circle cx="175" cy="589" r="6.4"/><circle cx="175" cy="642" r="7.2"/><circle cx="103" cy="473" r="4.7"/><circle cx="87" cy="564" r="5.2"/><circle cx="286" cy="614" r="7.8"/><circle cx="155" cy="617" r="3.8"/><circle cx="121" cy="601" r="7.3"/><circle cx="157" cy="575" r="4.9"/><circle cx="208" cy="533" r="5.2"/><circle cx="197" cy="584" r="7.5"/><circle cx="102" cy="534" r="6.8"/><circle cx="152" cy="573" r="7.8"/><circle cx="262" cy="670" r="7.4"/><circle cx="163" cy="540" r="7.8"/><circle cx="142" cy="545" r="7.8"/><circle cx="94" cy="607" r="5.4"/><circle cx="150" cy="565" r="6.2"/><circle cx="254" cy="624" r="6.4"/><circle cx="247" cy="618" r="6.9"/><circle cx="125" cy="579" r="7.4"/><circle cx="160" cy="616" r="5.5"/><circle cx="255" cy="582" r="7.2"/><circle cx="88" cy="569" r="6.2"/><circle cx="206" cy="587" r="3.5"/><circle cx="163" cy="523" r="3.3"/><circle cx="220" cy="588" r="7.0"/></g>
<polygon points="50,445 70,440 375,568 360,575" fill="#c9d3da"/>
<path d="M657,292 L660,250 Q662,232 680,224 L1000,96 Q1028,88 1035,112 L1045,165" fill="none" stroke="#5a9fe0" stroke-width="19" stroke-linejoin="round"/>
<path d="M1135,430 L1135,470 M1190,452 L985,500 L985,527 M1190,452 L1200,470 L1210,545" fill="none" stroke="#2d5c8c" stroke-width="12"/>
<rect x="1215" y="532" width="120" height="52" rx="12" fill="#9a9ca0" transform="rotate(8 1275 558)"/><ellipse cx="1315" cy="562" rx="18" ry="26" fill="#c9cbd0" transform="rotate(8 1275 558)"/><rect x="1240" y="540" width="40" height="38" fill="#6e7278" transform="rotate(8 1275 558)"/>
</g>
<g transform="translate(1040 290) scale(.15)">
<polygon points="525,650 1345,320 1345,430 870,625 870,665 525,805" fill="#d6d9df"/>
<polygon points="225,530 525,650 525,805 225,690" fill="url(#gend2)"/>
<polygon points="225,530 1045,200 1345,320 525,650" fill="#bfe6f6"/>
<polygon points="250,530 690,352 955,462 525,636" fill="#0e4d6f"/>
<polygon points="700,348 1045,210 1318,320 965,458" fill="#1b7a9f"/>
<polygon points="1030,214 1060,204 1335,316 1310,326" fill="#145f82"/>
<path d="M395,462 L670,580 M545,402 L815,518 M690,345 L960,460" stroke="#eaf6fb" stroke-width="13" fill="none"/>
<path d="M815,318 L1030,400 M890,290 L1100,370 M960,262 L1170,342 M1030,218 L1310,324" stroke="#bdf0ff" stroke-width="11" fill="none"/>
<path d="M65,185 L65,95 Q70,78 100,72 Q105,52 140,52 Q175,52 180,72 Q205,78 210,95 L210,185 Z" fill="url(#gor)"/>
<path d="M65,105H210M65,122H210M65,139H210M65,156H210M65,172H210" stroke="#fbd56a" stroke-width="5" opacity=".8"/>
<g fill="#66788a"><circle cx="133" cy="218" r="11"/><circle cx="133" cy="267" r="11"/><circle cx="133" cy="315" r="11"/><circle cx="133" cy="362" r="11"/><circle cx="160" cy="383" r="11"/><circle cx="208" cy="385" r="11"/><circle cx="255" cy="385" r="11"/><circle cx="303" cy="385" r="11"/><circle cx="350" cy="385" r="11"/><circle cx="372" cy="410" r="11"/><circle cx="372" cy="455" r="11"/></g>
<path d="M460,400 V565 M625,340 V490" stroke="#f3d27a" stroke-width="9"/>
<path d="M415,625 L415,570 Q430,548 450,560 Q465,540 480,560 Q505,545 520,575 L520,632 Z" fill="url(#gor)"/>
<path d="M580,560 L580,500 Q595,478 615,490 Q630,470 650,490 Q675,478 688,505 L688,570 Z" fill="url(#gor)"/>
</g></svg>
<svg width="1400" height="878" viewBox="0 0 1400 878" style="z-index:9;pointer-events:none"><defs><filter id="wmf" x="-10%" y="-10%" width="120%" height="130%" color-interpolation-filters="sRGB"><feGaussianBlur in="SourceAlpha" stdDeviation="1.4" result="b"/><feOffset in="b" dx="2.2" dy="2.6" result="o"/><feComposite in="o" in2="SourceAlpha" operator="out" result="sh"/><feComponentTransfer in="sh" result="sh2"><feFuncA type="linear" slope=".42"/></feComponentTransfer><feComponentTransfer in="SourceGraphic" result="sg"><feFuncA type="linear" slope=".5"/></feComponentTransfer><feMerge><feMergeNode in="sh2"/><feMergeNode in="sg"/></feMerge></filter><mask id="wm1" maskUnits="userSpaceOnUse" x="1150" y="-150" width="300" height="200"><rect x="1150" y="-150" width="300" height="200" fill="#fff"/><g clip-path="url(#wmc)"><text x="1246.3" y="-17.3" font-family="'Noto Sans CJK KR',sans-serif" font-weight="900" font-size="95" fill="#000" stroke="#000" stroke-width="5" stroke-linejoin="miter">1</text></g></mask><clipPath id="wmc"><path d="M1236,-98 H1288.2 V-17.3 H1266.5 V-48 H1236 Z"/></clipPath></defs><g filter="url(#wmf)"><g transform="translate(0 857) skewX(-17)"><text x="0" y="0" font-family="'NanumGothic','Noto Sans CJK KR',sans-serif" font-weight="700" font-size="80" fill="#fff" stroke="#fff" stroke-width="3.4" letter-spacing="6.5" transform="translate(1082 -20.4) scale(.93 1)">뉴스</text><g mask="url(#wm1)"><rect x="1247" y="-105" width="111" height="105" rx="49" ry="51" fill="#fff"/></g></g></g></svg>
</div></body></html>
